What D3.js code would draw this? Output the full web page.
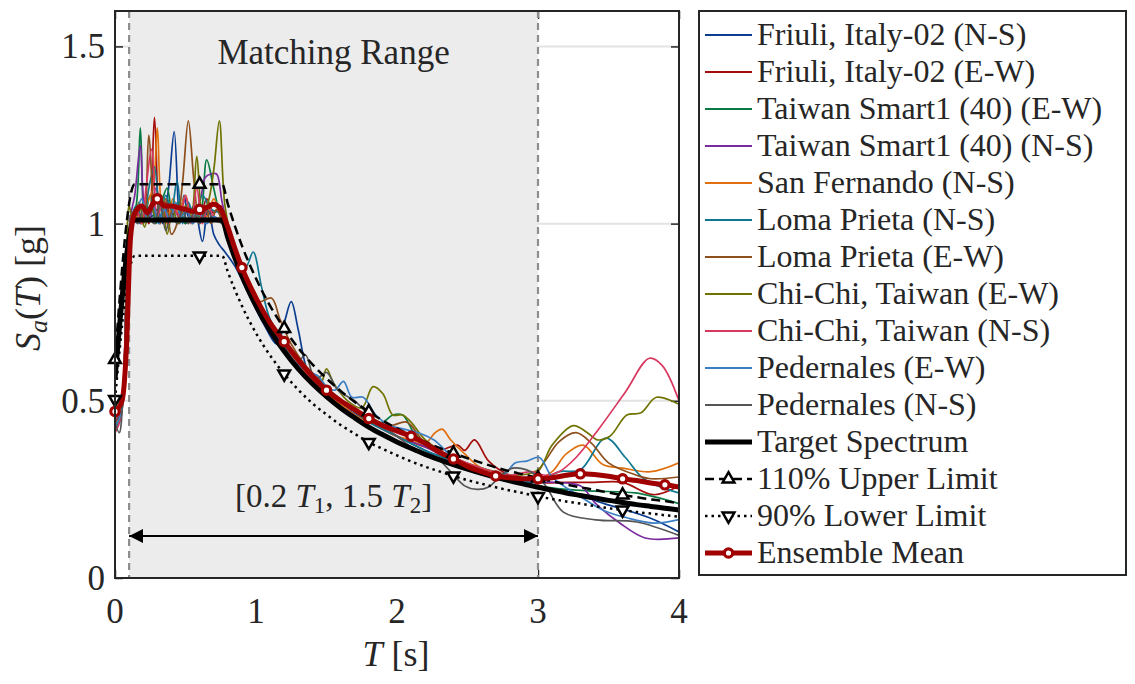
<!DOCTYPE html>
<html lang='en'>
<head>
<meta charset='utf-8'/>
<title>Spectral matching</title>
<script src='https://d3js.org/d3.v7.min.js'></script>
</head>
<body style="margin:0">
<script>
'use strict'

// ---- values ----
const recordNames = [
  'Friuli, Italy-02 (N-S)', 'Friuli, Italy-02 (E-W)', 'Taiwan Smart1 (40) (E-W)',
  'Taiwan Smart1 (40) (N-S)', 'San Fernando (N-S)', 'Loma Prieta (N-S)',
  'Loma Prieta (E-W)', 'Chi-Chi, Taiwan (E-W)', 'Chi-Chi, Taiwan (N-S)',
  'Pedernales (E-W)', 'Pedernales (N-S)'
]
const recordColors = [
  '#0b3d91', '#a50d0d', '#0a7a45', '#7a2c9e', '#e0700f', '#0f7891',
  '#8d4f1c', '#6f7300', '#d8375f', '#3a7fc4', '#555555'
]

// [T (s), Sa (g)] pairs per record
const friuliNS = [[0,0.44],[0.04,0.47],[0.08,0.8],[0.11,1.0],[0.14,1.03],[0.18,1.0],[0.22,1.05],[0.26,1.02],[0.30,1.04],[0.34,1.0],[0.38,1.1],[0.42,1.26],[0.46,1.0],[0.49,1.08],[0.52,1.02],[0.56,1.05],[0.62,0.95],[0.66,1.06],[0.70,0.97],[0.74,0.94],[0.78,0.92],[0.85,0.88],[0.95,0.8],[1.05,0.72],[1.15,0.66],[1.2,0.72],[1.25,0.78],[1.3,0.7],[1.37,0.58],[1.45,0.545],[1.6,0.49],[1.8,0.44],[2.0,0.4],[2.2,0.36],[2.4,0.33],[2.6,0.3],[2.8,0.28],[3.0,0.26],[3.2,0.245],[3.47,0.21],[3.79,0.17],[4.0,0.13]]
const friuliEW = [[0,0.45],[0.04,0.47],[0.08,0.75],[0.11,1.0],[0.15,1.02],[0.2,1.05],[0.24,1.0],[0.28,1.30],[0.32,1.0],[0.36,1.06],[0.4,1.02],[0.45,1.05],[0.5,1.0],[0.55,1.04],[0.6,1.01],[0.65,1.07],[0.7,1.03],[0.75,1.05],[0.8,0.95],[0.9,0.86],[1.0,0.79],[1.1,0.71],[1.2,0.66],[1.3,0.61],[1.4,0.56],[1.5,0.53],[1.6,0.5],[1.7,0.47],[1.8,0.45],[1.9,0.42],[2.0,0.4],[2.1,0.385],[2.2,0.37],[2.3,0.36],[2.43,0.375],[2.48,0.36],[2.55,0.39],[2.65,0.33],[2.8,0.29],[3.0,0.27],[3.2,0.27],[3.4,0.27],[3.6,0.27],[3.82,0.235],[4.0,0.26]]
const smart1EW = [[0,0.43],[0.04,0.46],[0.08,0.78],[0.11,1.0],[0.15,1.05],[0.18,1.27],[0.21,1.02],[0.25,1.08],[0.29,1.0],[0.33,1.06],[0.37,1.1],[0.41,1.02],[0.45,1.06],[0.5,1.0],[0.55,1.04],[0.6,1.02],[0.65,1.18],[0.7,1.1],[0.74,1.03],[0.78,0.98],[0.86,0.9],[0.94,0.82],[1.0,0.78],[1.1,0.71],[1.2,0.66],[1.3,0.61],[1.4,0.57],[1.5,0.53],[1.6,0.5],[1.7,0.47],[1.8,0.44],[1.9,0.44],[1.97,0.46],[2.04,0.46],[2.12,0.41],[2.2,0.38],[2.4,0.335],[2.6,0.3],[2.8,0.28],[3.0,0.26],[3.2,0.25],[3.4,0.245],[3.69,0.24],[4.0,0.21]]
const smart1NS = [[0,0.44],[0.04,0.47],[0.08,0.8],[0.11,1.02],[0.14,1.08],[0.18,1.22],[0.21,1.05],[0.25,1.02],[0.29,1.1],[0.33,1.04],[0.37,1.0],[0.41,1.05],[0.45,1.02],[0.5,1.07],[0.55,1.03],[0.6,1.06],[0.64,1.13],[0.68,1.14],[0.72,1.14],[0.76,1.06],[0.82,0.96],[0.9,0.87],[1.0,0.78],[1.1,0.7],[1.2,0.65],[1.3,0.6],[1.4,0.56],[1.5,0.52],[1.6,0.49],[1.7,0.46],[1.8,0.44],[1.9,0.42],[2.0,0.4],[2.2,0.37],[2.4,0.33],[2.6,0.3],[2.8,0.28],[3.0,0.27],[3.12,0.27],[3.3,0.26],[3.41,0.21],[3.58,0.155],[3.76,0.113],[4.0,0.113]]
const sanFernandoNS = [[0,0.45],[0.04,0.48],[0.08,0.76],[0.11,0.98],[0.15,1.02],[0.19,1.0],[0.23,1.06],[0.27,1.1],[0.30,1.27],[0.33,1.05],[0.37,1.0],[0.41,1.07],[0.45,1.03],[0.5,1.08],[0.55,1.0],[0.6,1.05],[0.65,1.02],[0.7,1.07],[0.75,1.02],[0.82,0.97],[0.9,0.88],[1.0,0.8],[1.1,0.72],[1.2,0.66],[1.3,0.6],[1.4,0.56],[1.5,0.52],[1.6,0.49],[1.7,0.46],[1.8,0.44],[1.9,0.42],[2.0,0.4],[2.1,0.39],[2.2,0.38],[2.27,0.41],[2.32,0.42],[2.38,0.39],[2.48,0.35],[2.6,0.31],[2.8,0.29],[3.0,0.28],[3.1,0.3],[3.2,0.35],[3.32,0.375],[3.46,0.32],[3.6,0.31],[3.8,0.30],[4.0,0.325]]
const lomaNS = [[0,0.42],[0.04,0.45],[0.08,0.78],[0.11,1.0],[0.15,1.05],[0.2,1.0],[0.24,1.1],[0.28,1.16],[0.32,1.02],[0.36,1.08],[0.4,1.04],[0.44,1.12],[0.48,1.0],[0.52,1.06],[0.56,1.02],[0.62,1.08],[0.68,1.04],[0.74,1.03],[0.8,0.98],[0.88,0.9],[0.93,0.88],[0.98,0.92],[1.04,0.82],[1.1,0.73],[1.2,0.67],[1.3,0.61],[1.4,0.57],[1.5,0.53],[1.6,0.5],[1.7,0.47],[1.8,0.44],[2.0,0.4],[2.2,0.36],[2.4,0.33],[2.6,0.3],[2.8,0.28],[3.0,0.27],[3.15,0.3],[3.3,0.305],[3.48,0.395],[3.62,0.34],[3.75,0.28],[4.0,0.24]]
const lomaEW = [[0,0.44],[0.04,0.46],[0.08,0.77],[0.11,1.0],[0.15,1.04],[0.2,1.0],[0.24,1.25],[0.28,1.04],[0.32,1.0],[0.36,1.07],[0.4,0.97],[0.44,1.0],[0.48,1.12],[0.52,1.29],[0.56,1.12],[0.6,1.0],[0.64,1.05],[0.68,1.0],[0.72,1.04],[0.78,0.98],[0.86,0.9],[0.95,0.84],[1.02,0.78],[1.11,0.79],[1.17,0.73],[1.25,0.66],[1.35,0.6],[1.45,0.56],[1.55,0.52],[1.65,0.49],[1.8,0.45],[1.95,0.43],[2.07,0.44],[2.2,0.38],[2.4,0.34],[2.6,0.31],[2.8,0.29],[2.95,0.28],[3.05,0.33],[3.15,0.385],[3.27,0.41],[3.38,0.38],[3.5,0.325],[3.7,0.29],[3.8,0.28],[4.0,0.285]]
const chichiEW = [[0,0.43],[0.04,0.46],[0.08,0.85],[0.1,1.05],[0.13,1.0],[0.17,1.06],[0.21,0.99],[0.25,1.05],[0.29,1.02],[0.33,1.08],[0.37,0.97],[0.41,1.04],[0.45,1.0],[0.5,1.05],[0.54,1.02],[0.58,1.19],[0.62,1.03],[0.66,1.06],[0.7,1.15],[0.74,1.29],[0.78,1.05],[0.84,0.94],[0.92,0.86],[1.0,0.79],[1.1,0.72],[1.2,0.66],[1.3,0.61],[1.4,0.57],[1.46,0.55],[1.5,0.59],[1.55,0.55],[1.65,0.5],[1.75,0.48],[1.83,0.54],[1.9,0.52],[1.97,0.46],[2.04,0.46],[2.1,0.44],[2.2,0.39],[2.4,0.34],[2.6,0.31],[2.8,0.29],[3.0,0.305],[3.1,0.375],[3.25,0.43],[3.35,0.41],[3.42,0.39],[3.51,0.4],[3.63,0.46],[3.73,0.466],[3.84,0.51],[4.0,0.49]]
const chichiNS = [[0,0.41],[0.04,0.45],[0.08,0.8],[0.11,1.0],[0.15,1.04],[0.19,1.0],[0.22,1.1],[0.26,1.21],[0.3,1.02],[0.34,1.06],[0.38,1.0],[0.42,1.04],[0.46,1.02],[0.5,1.08],[0.54,1.0],[0.58,1.1],[0.62,1.0],[0.66,1.05],[0.7,1.02],[0.76,1.01],[0.82,0.96],[0.9,0.87],[1.0,0.79],[1.1,0.71],[1.2,0.66],[1.3,0.61],[1.4,0.56],[1.5,0.53],[1.6,0.5],[1.7,0.48],[1.8,0.45],[1.9,0.43],[2.0,0.41],[2.2,0.38],[2.4,0.34],[2.6,0.31],[2.8,0.29],[2.95,0.3],[3.05,0.29],[3.15,0.3],[3.27,0.34],[3.43,0.42],[3.62,0.525],[3.79,0.62],[3.88,0.6],[4.0,0.5]]
const pedernalesEW = [[0,0.43],[0.04,0.46],[0.08,0.78],[0.11,1.0],[0.15,1.03],[0.19,1.07],[0.23,1.01],[0.27,1.05],[0.31,1.0],[0.35,1.04],[0.39,1.01],[0.43,1.06],[0.47,1.02],[0.51,1.04],[0.55,1.0],[0.6,1.03],[0.65,1.0],[0.7,1.02],[0.76,1.0],[0.82,0.95],[0.9,0.86],[1.0,0.78],[1.1,0.71],[1.2,0.65],[1.3,0.6],[1.38,0.58],[1.44,0.57],[1.5,0.54],[1.56,0.53],[1.62,0.555],[1.68,0.51],[1.76,0.51],[1.85,0.46],[1.95,0.43],[2.05,0.42],[2.15,0.41],[2.26,0.39],[2.4,0.34],[2.6,0.3],[2.75,0.29],[2.84,0.325],[2.92,0.33],[3.01,0.34],[3.1,0.285],[3.3,0.23],[3.47,0.19],[3.63,0.17],[3.82,0.155],[4.0,0.165]]
const pedernalesNS = [[0,0.44],[0.03,0.41],[0.06,0.55],[0.09,0.9],[0.12,1.02],[0.16,1.0],[0.2,1.04],[0.24,1.02],[0.28,1.0],[0.32,1.06],[0.36,0.98],[0.4,1.03],[0.44,1.0],[0.48,1.04],[0.52,1.0],[0.56,1.03],[0.6,1.0],[0.65,1.04],[0.7,1.01],[0.76,1.0],[0.82,0.95],[0.9,0.86],[1.0,0.78],[1.1,0.71],[1.2,0.66],[1.28,0.6],[1.35,0.63],[1.42,0.56],[1.5,0.58],[1.58,0.53],[1.7,0.5],[1.8,0.46],[1.9,0.43],[2.0,0.4],[2.1,0.37],[2.2,0.35],[2.28,0.34],[2.38,0.3],[2.48,0.26],[2.57,0.25],[2.65,0.257],[2.74,0.29],[2.82,0.31],[2.92,0.305],[3.0,0.285],[3.06,0.257],[3.18,0.186],[3.41,0.164],[3.7,0.158],[4.0,0.12]]

const records = [friuliNS, friuliEW, smart1EW, smart1NS, sanFernandoNS, lomaNS,
  lomaEW, chichiEW, chichiNS, pedernalesEW, pedernalesNS]

// target spectrum and the 110% / 90% bounds
const targetT  = [0, 0.14, 0.2, 0.3, 0.4, 0.5, 0.6, 0.7, 0.76, 0.8, 0.9, 1.0, 1.1, 1.2, 1.3, 1.4, 1.5, 1.6, 1.7, 1.8, 1.9, 2.0, 2.1, 2.2, 2.3, 2.4, 2.5, 2.6, 2.7, 2.8, 2.9, 3.0, 3.1, 3.2, 3.3, 3.4, 3.5, 3.6, 3.7, 3.8, 3.9, 4.0]
const targetSa = [0.56, 1.01, 1.01, 1.01, 1.01, 1.01, 1.01, 1.01, 1.01, 0.96, 0.853, 0.768, 0.698, 0.640, 0.590, 0.548, 0.512, 0.480, 0.452, 0.426, 0.404, 0.384, 0.366, 0.349, 0.334, 0.320, 0.307, 0.295, 0.284, 0.274, 0.265, 0.256, 0.248, 0.240, 0.233, 0.226, 0.219, 0.213, 0.207, 0.202, 0.197, 0.192]
const upperSa  = [0.616, 1.111, 1.111, 1.111, 1.111, 1.111, 1.111, 1.111, 1.111, 1.056, 0.938, 0.845, 0.768, 0.704, 0.649, 0.603, 0.563, 0.528, 0.497, 0.469, 0.444, 0.422, 0.403, 0.384, 0.367, 0.352, 0.338, 0.325, 0.312, 0.301, 0.292, 0.282, 0.273, 0.264, 0.256, 0.249, 0.241, 0.234, 0.228, 0.222, 0.217, 0.211]
const lowerSa  = [0.504, 0.909, 0.909, 0.909, 0.909, 0.909, 0.909, 0.909, 0.909, 0.864, 0.768, 0.691, 0.628, 0.576, 0.531, 0.493, 0.461, 0.432, 0.407, 0.383, 0.364, 0.346, 0.329, 0.314, 0.301, 0.288, 0.276, 0.266, 0.256, 0.247, 0.239, 0.230, 0.223, 0.216, 0.210, 0.203, 0.197, 0.192, 0.186, 0.182, 0.177, 0.173]
const limitMarkerT = [0, 0.6, 1.2, 1.8, 2.4, 3.0, 3.6]

// ensemble mean of the records
const meanT  = [0, 0.05, 0.08, 0.11, 0.14, 0.19, 0.23, 0.26, 0.3, 0.35, 0.4, 0.45, 0.5, 0.55, 0.6, 0.65, 0.7, 0.75, 0.8, 0.85, 0.9, 1.0, 1.1, 1.2, 1.3, 1.4, 1.5, 1.6, 1.7, 1.8, 1.9, 2.0, 2.1, 2.2, 2.3, 2.4, 2.5, 2.6, 2.7, 2.8, 2.9, 3.0, 3.1, 3.2, 3.3, 3.4, 3.5, 3.6, 3.7, 3.8, 3.9, 4.0]
const meanSa = [0.47, 0.50, 0.64, 0.96, 1.03, 1.05, 1.03, 1.05, 1.07, 1.05, 1.05, 1.045, 1.04, 1.035, 1.04, 1.045, 1.055, 1.04, 0.99, 0.93, 0.876, 0.79, 0.72, 0.667, 0.615, 0.57, 0.53, 0.50, 0.475, 0.45, 0.43, 0.415, 0.40, 0.38, 0.355, 0.336, 0.315, 0.30, 0.288, 0.283, 0.28, 0.28, 0.283, 0.29, 0.294, 0.292, 0.287, 0.28, 0.275, 0.268, 0.263, 0.257]
const meanMarkerT = [0, 0.3, 0.6, 0.9, 1.2, 1.5, 1.8, 2.1, 2.4, 2.7, 3.0, 3.3, 3.6, 3.9]

const matchRange = [0.1, 3.0]
const xTicks = [0, 1, 2, 3, 4]
const yTicks = [0, 0.5, 1, 1.5]
const yTickLabels = ['0', '0.5', '1', '1.5']
const yGrid = [0.5, 1, 1.5]

// ---- layout ----
const W = 1135, H = 684
const plot = {left: 115, right: 679, top: 11, bottom: 578}
const meanColor = '#a00000'
const axisColor = '#262626'
const serif = "'Liberation Serif'"

const x = d3.scaleLinear().domain([0, 4]).range([plot.left, plot.right])
const y = d3.scaleLinear().domain([0, 1.6]).range([plot.bottom, plot.top])

function label(parent, px) {
  return parent.append('text')
    .style('font-family', serif)
    .style('font-size', px + 'px')
    .style('fill', axisColor)
}

const svg = d3.select('body').append('svg')
  .attr('width', W)
  .attr('height', H)

svg.append('rect').attr('width', W).attr('height', H).attr('fill', '#ffffff')

const defs = svg.append('defs')
defs.append('clipPath').attr('id', 'clip')
  .append('rect')
  .attr('x', plot.left).attr('y', plot.top)
  .attr('width', plot.right - plot.left).attr('height', plot.bottom - plot.top)

// grid lines and inward ticks (below the shaded patch)
const g = svg.append('g')
g.selectAll('line.grid').data(yGrid).join('line')
  .attr('class', 'grid')
  .attr('x1', plot.left).attr('x2', plot.right)
  .attr('y1', d => y(d)).attr('y2', d => y(d))
  .attr('stroke', '#e3e3e3').attr('stroke-width', 2)

const tickLen = 8
const axL = d3.axisLeft(y).tickValues(yTicks).tickSizeInner(-tickLen).tickSizeOuter(0).tickFormat('')
const axR = d3.axisRight(y).tickValues(yTicks).tickSizeInner(-tickLen).tickSizeOuter(0).tickFormat('')
const axB = d3.axisBottom(x).tickValues(xTicks).tickSizeInner(-tickLen).tickSizeOuter(0).tickFormat('')
const axT = d3.axisTop(x).tickValues(xTicks).tickSizeInner(-tickLen).tickSizeOuter(0).tickFormat('')
function styleAxis(sel) {
  sel.attr('font-family', null).attr('font-size', null)
  sel.select('.domain').remove()
  sel.selectAll('text').remove()
  sel.selectAll('line').attr('stroke', axisColor).attr('stroke-width', 1.5)
}
g.append('g').attr('transform', `translate(${plot.left},0)`).call(axL).call(styleAxis)
g.append('g').attr('transform', `translate(${plot.right},0)`).call(axR).call(styleAxis)
g.append('g').attr('transform', `translate(0,${plot.bottom})`).call(axB).call(styleAxis)
g.append('g').attr('transform', `translate(0,${plot.top})`).call(axT).call(styleAxis)

// matching range patch
svg.append('rect')
  .attr('x', x(matchRange[0])).attr('y', plot.top)
  .attr('width', x(matchRange[1]) - x(matchRange[0]))
  .attr('height', plot.bottom - plot.top)
  .attr('fill', '#ececec')

svg.selectAll('line.range').data(matchRange).join('line')
  .attr('class', 'range')
  .attr('x1', d => x(d)).attr('x2', d => x(d))
  .attr('y1', plot.top).attr('y2', plot.bottom)
  .attr('stroke', '#8e8e8e').attr('stroke-width', 2.2)
  .attr('stroke-dasharray', '7,5')

// data
const data = svg.append('g').attr('clip-path', 'url(#clip)')

const recLine = d3.line()
  .x(d => x(d[0])).y(d => y(d[1]))
  .curve(d3.curveCatmullRom.alpha(0.5))

data.selectAll('path.rec').data(records).join('path')
  .attr('class', 'rec')
  .attr('d', recLine)
  .attr('fill', 'none')
  .attr('stroke', (d, i) => recordColors[i])
  .attr('stroke-width', 1.7)

const smooth = d3.line()
  .x(d => x(d[0])).y(d => y(d[1]))
  .curve(d3.curveMonotoneX)

const target = targetT.map((t, i) => [t, targetSa[i]])
const upper = targetT.map((t, i) => [t, upperSa[i]])
const lower = targetT.map((t, i) => [t, lowerSa[i]])
const mean = meanT.map((t, i) => [t, meanSa[i]])

data.append('path').attr('d', smooth(target))
  .attr('fill', 'none').attr('stroke', '#000').attr('stroke-width', 5)
data.append('path').attr('d', smooth(upper))
  .attr('fill', 'none').attr('stroke', '#000').attr('stroke-width', 2.5)
  .attr('stroke-dasharray', '9,5')
data.append('path').attr('d', smooth(lower))
  .attr('fill', 'none').attr('stroke', '#000').attr('stroke-width', 2.5)
  .attr('stroke-dasharray', '2.5,4')

const tri = d3.symbol().type(d3.symbolTriangle).size(60)
const near = (a, b) => Math.abs(a - b) < 1e-6
const upMarks = upper.filter(d => limitMarkerT.some(t => near(t, d[0])))
const lowMarks = lower.filter(d => limitMarkerT.some(t => near(t, d[0])))

svg.selectAll('path.up').data(upMarks).join('path')
  .attr('class', 'up')
  .attr('d', tri)
  .attr('transform', d => `translate(${x(d[0])},${y(d[1])})`)
  .attr('fill', '#fff').attr('stroke', '#000').attr('stroke-width', 2.5)
svg.selectAll('path.low').data(lowMarks).join('path')
  .attr('class', 'low')
  .attr('d', tri)
  .attr('transform', d => `translate(${x(d[0])},${y(d[1])}) rotate(180)`)
  .attr('fill', '#fff').attr('stroke', '#000').attr('stroke-width', 2.5)

data.append('path').attr('d', smooth(mean))
  .attr('fill', 'none').attr('stroke', meanColor).attr('stroke-width', 5)
  .attr('stroke-linejoin', 'round')
svg.selectAll('circle.mean').data(mean.filter(d => meanMarkerT.some(t => near(t, d[0])))).join('circle')
  .attr('class', 'mean')
  .attr('cx', d => x(d[0])).attr('cy', d => y(d[1]))
  .attr('r', 4.2)
  .attr('fill', '#fff').attr('stroke', meanColor).attr('stroke-width', 3.2)

// box
svg.append('rect')
  .attr('x', plot.left).attr('y', plot.top)
  .attr('width', plot.right - plot.left).attr('height', plot.bottom - plot.top)
  .attr('fill', 'none').attr('stroke', axisColor).attr('stroke-width', 2)

// annotations
const midX = (x(matchRange[0]) + x(matchRange[1])) / 2
label(svg, 35).attr('x', midX).attr('y', 64)
  .attr('text-anchor', 'middle')
  .text('Matching Range')

defs.append('marker').attr('id', 'head')
  .attr('viewBox', '0 0 10 10').attr('refX', 10).attr('refY', 5)
  .attr('markerWidth', 14).attr('markerHeight', 14)
  .attr('markerUnits', 'userSpaceOnUse')
  .attr('orient', 'auto-start-reverse')
  .append('path').attr('d', 'M0,0 L10,5 L0,10 Z').attr('fill', '#000')

svg.append('line')
  .attr('x1', x(matchRange[0])).attr('x2', x(matchRange[1]))
  .attr('y1', 536).attr('y2', 536)
  .attr('stroke', '#000').attr('stroke-width', 2)
  .attr('marker-start', 'url(#head)').attr('marker-end', 'url(#head)')

const rangeLabel = label(svg, 33).attr('x', midX).attr('y', 507)
  .attr('text-anchor', 'middle')
rangeLabel.append('tspan').text('[0.2 ')
rangeLabel.append('tspan').style('font-style', 'italic').text('T')
rangeLabel.append('tspan').attr('dy', 6).style('font-size', '23px').text('1')
rangeLabel.append('tspan').attr('dy', -6).text(', 1.5 ')
rangeLabel.append('tspan').style('font-style', 'italic').text('T')
rangeLabel.append('tspan').attr('dy', 6).style('font-size', '23px').text('2')
rangeLabel.append('tspan').attr('dy', -6).text(']')

// tick labels
xTicks.forEach(d => {
  label(svg, 35).attr('x', x(d)).attr('y', 623)
    .attr('text-anchor', 'middle').text(d)
})
yTicks.forEach((d, i) => {
  label(svg, 35).attr('x', 105).attr('y', y(d) + 12)
    .attr('text-anchor', 'end').text(yTickLabels[i])
})

// axis titles
const xTitle = label(svg, 36).attr('x', 396).attr('y', 666)
  .attr('text-anchor', 'middle')
xTitle.append('tspan').style('font-style', 'italic').text('T')
xTitle.append('tspan').text(' [s]')

const yTitle = label(svg, 36).attr('transform', 'translate(40,288) rotate(-90)')
  .attr('text-anchor', 'middle')
yTitle.append('tspan').style('font-style', 'italic').text('S')
yTitle.append('tspan').attr('dy', 7).style('font-style', 'italic').style('font-size', '26px').text('a')
yTitle.append('tspan').attr('dy', -7).text('(')
yTitle.append('tspan').style('font-style', 'italic').text('T')
yTitle.append('tspan').text(') [g]')

// legend
const leg = svg.append('g')
leg.append('rect')
  .attr('x', 699).attr('y', 11).attr('width', 427).attr('height', 564)
  .attr('fill', '#fff').attr('stroke', axisColor).attr('stroke-width', 2)

const legendLabels = recordNames.concat(['Target Spectrum', '110% Upper Limit', '90% Lower Limit', 'Ensemble Mean'])
const rowY = i => 35 + i * 37
const sx0 = 705, sx1 = 752

legendLabels.forEach((d, i) => {
  label(leg, 32).attr('x', 757).attr('y', rowY(i) + 10).text(d)
})

leg.selectAll('line.rec').data(recordNames).join('line')
  .attr('class', 'rec')
  .attr('x1', sx0).attr('x2', sx1)
  .attr('y1', (d, i) => rowY(i)).attr('y2', (d, i) => rowY(i))
  .attr('stroke', (d, i) => recordColors[i]).attr('stroke-width', 2)

const n = recordNames.length
leg.append('line').attr('x1', sx0).attr('x2', sx1).attr('y1', rowY(n)).attr('y2', rowY(n))
  .attr('stroke', '#000').attr('stroke-width', 5)
leg.append('line').attr('x1', sx0).attr('x2', sx1).attr('y1', rowY(n + 1)).attr('y2', rowY(n + 1))
  .attr('stroke', '#000').attr('stroke-width', 2.5).attr('stroke-dasharray', '9,5')
leg.append('path').attr('d', tri)
  .attr('transform', `translate(${(sx0 + sx1) / 2},${rowY(n + 1)})`)
  .attr('fill', '#fff').attr('stroke', '#000').attr('stroke-width', 2.5)
leg.append('line').attr('x1', sx0).attr('x2', sx1).attr('y1', rowY(n + 2)).attr('y2', rowY(n + 2))
  .attr('stroke', '#000').attr('stroke-width', 2.5).attr('stroke-dasharray', '2.5,4')
leg.append('path').attr('d', tri)
  .attr('transform', `translate(${(sx0 + sx1) / 2},${rowY(n + 2)}) rotate(180)`)
  .attr('fill', '#fff').attr('stroke', '#000').attr('stroke-width', 2.5)
leg.append('line').attr('x1', sx0).attr('x2', sx1).attr('y1', rowY(n + 3)).attr('y2', rowY(n + 3))
  .attr('stroke', meanColor).attr('stroke-width', 5)
leg.append('circle').attr('cx', (sx0 + sx1) / 2).attr('cy', rowY(n + 3)).attr('r', 4.2)
  .attr('fill', '#fff').attr('stroke', meanColor).attr('stroke-width', 3.2)
</script>
</body>
</html>
